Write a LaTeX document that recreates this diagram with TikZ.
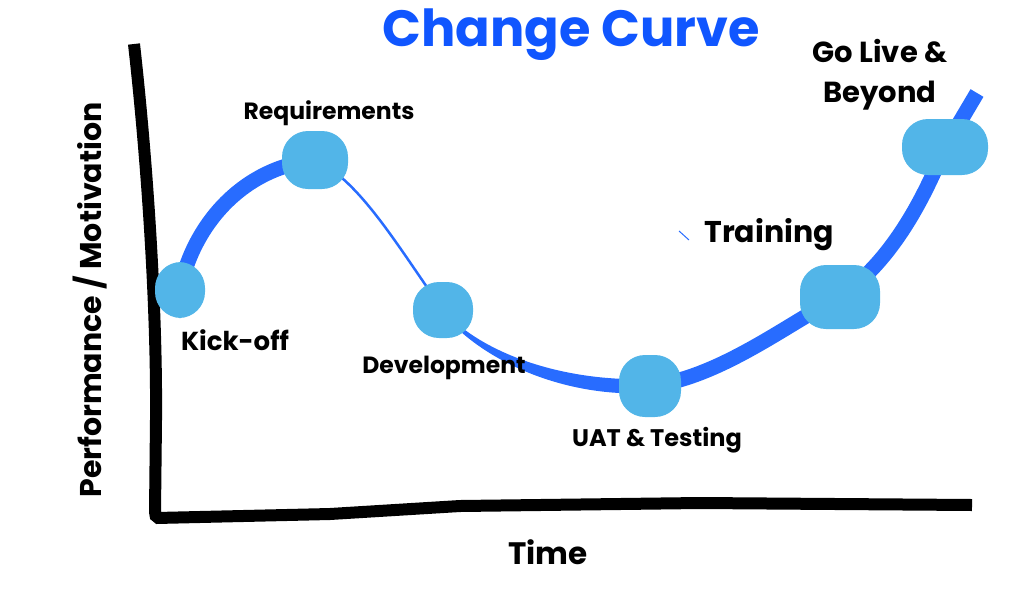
\documentclass[tikz,border=0pt]{standalone}
\usepackage{fontspec}
\setmainfont{Poppins}
\usetikzlibrary{calc}

\definecolor{curveblue}{RGB}{40,108,255}
\definecolor{blobblue}{RGB}{82,181,232}
\definecolor{titleblue}{RGB}{16,86,255}

\tikzset{
  axis/.style={line width=12pt, black, line join=bevel},
  curve/.style={line width=15pt, curveblue},
  blob/.style={fill=blobblue, draw=none, rounded corners=26pt, inner sep=0pt},
  lbl/.style={font=\bfseries\fontsize{24}{26}\selectfont, black},
}

\begin{document}
\begin{tikzpicture}[x=1pt,y=-1pt]
  \useasboundingbox (0,0) rectangle (1024,600);
  % key points of the curve
  \coordinate (kick) at (180,290); \coordinate (req) at (315,160);
  \coordinate (dev) at (443,310);  \coordinate (uat) at (650,386);
  \coordinate (train) at (840,297); \coordinate (live) at (945,147);
  \coordinate (tip) at (977,93);
  % axes
  \coordinate (ytop) at (134,44); \coordinate (O) at (156,518);
  \coordinate (xend) at (972,505);
  \draw[axis] (ytop) .. controls (146,150) and (157,300) .. (156,420)
    -- (155,512) -- (O) -- (330,514) -- (460,506) -- (700,503) -- (xend);
  % the curve
  \draw[curve] (kick) .. controls (192,228) and (240,168) .. (req);
  \draw[curveblue, line width=2.5pt] (req) .. controls (360,180) and (400,250) .. (dev);
  \fill[curveblue] (dev) .. controls (480,352) and (560,382) .. ($(uat)+(0,-7)$)
    -- ($(uat)+(0,7)$) .. controls (560,398) and (478,358) .. ($(dev)+(-2,1)$) -- cycle;
  \draw[curve] (uat) .. controls (720,378) and (790,322) .. (train)
    .. controls (895,258) and (925,195) .. (live) -- (tip);
  \draw[curveblue, line width=1pt] (679,231) -- (689,240);
  % blobs
  \foreach \p/\w/\h in {kick/50/56,req/66/58,dev/60/56,uat/62/62,train/80/64,live/86/56}
    \node[blob, minimum width=\w, minimum height=\h] (\p-b) at (\p) {};
  % labels
  \node[font=\bfseries\fontsize{51}{54}\selectfont, text=titleblue] (title) at (571,35) {Change Curve};
  \node[lbl, font=\bfseries\fontsize{23.5}{26}\selectfont] (reql) at (329,113) {Requirements};
  \node[lbl, font=\bfseries\fontsize{26}{28}\selectfont] (kickl) at (235,340) {Kick-off};
  \node[lbl, font=\bfseries\fontsize{23.5}{26}\selectfont] (devl) at (444,368) {Development};
  \node[lbl] (uatl) at (657,440) {UAT \& Testing};
  \node[lbl, font=\bfseries\fontsize{30}{32}\selectfont] (trainl) at (769,235) {Training};
  \node[lbl, align=center, font=\bfseries\fontsize{29}{40}\selectfont] (livel) at (880,75) {Go Live \&\\Beyond};
  \node[lbl, font=\bfseries\fontsize{31}{33}\selectfont] (timel) at (548,552) {Time};
  \node[lbl, rotate=90, font=\bfseries\fontsize{30}{32}\selectfont] (perfl) at (90,300) {Performance / Motivation};
\end{tikzpicture}
\end{document}
